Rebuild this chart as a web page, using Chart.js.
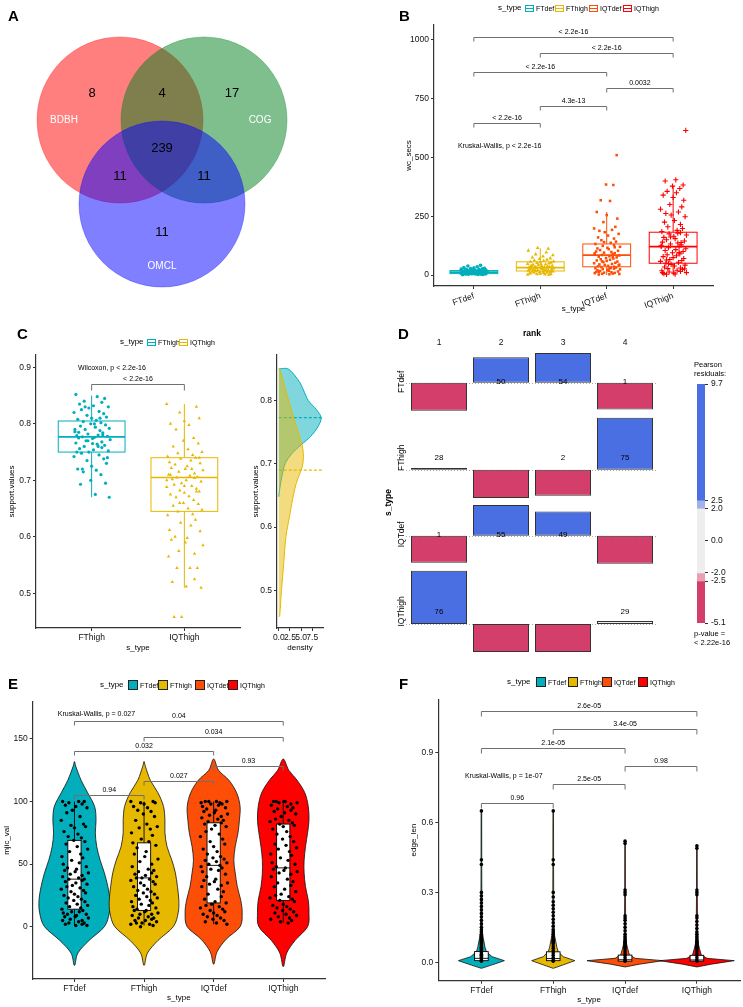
<!DOCTYPE html>
<html>
<head>
<meta charset="utf-8">
<title>Orthologous genes - method comparison</title>
<script src="https://cdn.jsdelivr.net/npm/chart.js@4.4.1/dist/chart.umd.min.js"></script>
<style>
  html, body { margin: 0; padding: 0; background: #fff; }
  body { position: relative; width: 743px; height: 1007px; overflow: hidden; font-family: 'Liberation Sans', Arial, Helvetica, sans-serif; }
  canvas { position: absolute; }
  .t { position: absolute; white-space: nowrap; line-height: 1; color: #000; }
  .sw { position: absolute; box-sizing: border-box; }
</style>
</head>
<body>
<script>
const FONT = "'Liberation Sans', Arial, Helvetica, sans-serif";
Chart.defaults.font.family = FONT;
Chart.defaults.font.size = 8.5;
Chart.defaults.color = '#111';
Chart.defaults.animation = false;
Chart.defaults.events = [];
Chart.defaults.plugins.legend.display = false;
Chart.defaults.plugins.tooltip.enabled = false;

// ---------- data ----------
const GROUPS = ['FTdef', 'FThigh', 'IQTdef', 'IQThigh'];
const PAIR = ['FThigh', 'IQThigh'];
const GROUP_COLORS = ['#00AFBB', '#E7B800', '#FC4E07', '#FF0000'];

// A: venn of the three ortholog methods
const SETS = ['BDBH', 'COG', 'OMCL'];
// BDBH only, BDBH&COG, COG only, all three, BDBH&OMCL, COG&OMCL, OMCL only
const REGION_COUNTS = [8, 4, 17, 239, 11, 11, 11];

// B: wc_secs
const WC_FTDEF = [1,2,2,3,3,4,4,5,5,5,6,6,6,7,7,7,8,8,8,9,9,9,10,10,10,11,11,11,12,12,12,13,13,13,14,14,15,15,16,16,17,17,18,18,19,20,20,21,22,23,24,25,26,27,28,30,32,35,38,41];
const WC_FTHIGH = [1,2,4,4,6,7,9,10,10,12,13,14,15,15,17,18,19,20,21,21,23,24,25,26,27,28,28,30,31,32,33,34,35,36,37,39,40,42,44,45,47,49,51,53,55,57,60,62,65,68,71,75,79,84,88,96,104,112,115,3,8,16,22,29,38,46,58];
const WC_IQTDEF = [2,3,4,5,6,8,9,10,12,13,15,17,18,20,22,24,25,27,29,30,32,34,35,37,39,41,43,45,47,50,52,55,57,60,62,65,67,70,72,75,78,80,83,85,88,90,93,95,98,100,103,106,110,113,116,120,124,128,132,137,142,148,155,160,168,175,182,188,192,198,205,225,240,255,268,315,318,383,385,510,14,28,44,58,76,92,118,140];
const WC_IQTHIGH = [3,4,6,8,10,13,15,18,20,24,27,30,34,38,42,45,50,54,58,62,66,70,74,78,82,86,90,95,100,104,108,112,116,120,124,128,132,136,140,145,150,155,160,165,170,175,180,185,190,198,205,215,225,232,248,255,262,268,280,290,300,318,330,340,350,356,368,378,383,400,405,615,48,96,122,138,162,178,10,26,64];
// lower whisker, q1, median, q3, upper whisker
const WC_BOX = [[0,6,12,19,38],[0,17,31,56,114],[0,35,85,132,268],[3,50,121,182,380]];
const WC_TESTS = [[1,4,'< 2.2e-16'],[2,4,'< 2.2e-16'],[1,3,'< 2.2e-16'],[3,4,'0.0032'],[2,3,'4.3e-13'],[1,2,'< 2.2e-16']];
const WC_GLOBAL = 'Kruskal-Wallis, p < 2.2e-16';

// C: support.values
const SUP_FTHIGH = [0.852,0.848,0.845,0.84,0.838,0.835,0.832,0.83,0.828,0.825,0.822,0.82,0.818,0.815,0.812,0.81,0.808,0.806,0.804,0.802,0.8,0.798,0.796,0.794,0.792,0.79,0.788,0.786,0.784,0.782,0.78,0.779,0.778,0.777,0.776,0.775,0.774,0.772,0.77,0.768,0.766,0.764,0.762,0.76,0.758,0.756,0.754,0.752,0.75,0.748,0.745,0.742,0.738,0.735,0.73,0.725,0.72,0.718,0.715,0.71,0.7,0.695,0.693,0.675,0.67,0.83,0.81,0.79,0.78,0.77,0.76,0.75,0.74,0.72,0.8,0.785,0.765];
const SUP_IQTHIGH = [0.835,0.83,0.82,0.81,0.805,0.8,0.798,0.79,0.775,0.77,0.765,0.76,0.755,0.75,0.748,0.745,0.742,0.74,0.738,0.735,0.732,0.73,0.728,0.725,0.722,0.72,0.718,0.715,0.712,0.71,0.708,0.706,0.705,0.704,0.702,0.7,0.698,0.695,0.692,0.69,0.688,0.685,0.682,0.68,0.678,0.675,0.672,0.67,0.665,0.66,0.658,0.655,0.65,0.648,0.645,0.64,0.638,0.63,0.625,0.62,0.612,0.61,0.6,0.598,0.595,0.59,0.585,0.575,0.57,0.565,0.545,0.545,0.545,0.525,0.52,0.512,0.51,0.458,0.458,0.72,0.7,0.68,0.66,0.74,0.69,0.71];
const SUP_BOX = [[0.67,0.75,0.777,0.805,0.85],[0.51,0.645,0.705,0.74,0.835]];
const SUP_TESTS = [[1,2,'< 2.2e-16']];
const SUP_GLOBAL = 'Wilcoxon, p < 2.2e-16';
// [support value, density]
const DENS_FTHIGH = [[0.648,0],[0.665,0.3],[0.68,0.7],[0.7,1.4],[0.716,2.9],[0.73,5.0],[0.743,7.1],[0.759,8.8],[0.773,9.5],[0.786,8.4],[0.8,6.6],[0.817,5.5],[0.83,4.6],[0.85,2.1],[0.85,0]];
const DENS_IQTHIGH = [[0.458,0],[0.46,0.2],[0.5,0.6],[0.543,1.1],[0.585,1.6],[0.617,2.4],[0.637,2.9],[0.669,3.9],[0.69,5.0],[0.7,5.4],[0.716,5.5],[0.73,5.2],[0.79,2.6],[0.85,0.2],[0.85,0]];
const SUP_MEAN = [0.773, 0.69];

// D: s_type x rank contingency table
const RANKS = ['1', '2', '3', '4'];
const COUNTS = [[0,50,54,1],[28,0,2,75],[1,55,49,0],[76,0,0,29]];
const D_PVALUE = '< 2.22e-16';

// E: mjic_val
const MJ_FTDEF = [100,100,100,99,98,97,96,95,93,91,88,85,82,81,80,79,76,74,72,71,69,68,66,64,62,60,58,56,55,53,51,50,48,47,46,45,44,43,42,41,40,39,38,38,37,36,35,34,33,32,31,30,29,28,27,26,25,24,23,22,21,20,19,18,17,16,15,14,13,12,12,11,10,10,9,8,8,7,6,5,5,4,3,3,2,2,1,1];
const MJ_FTHIGH = [100,100,99,99,98,96,95,93,92,90,88,85,82,80,79,78,75,73,70,68,67,65,63,60,58,56,54,52,50,48,46,45,44,43,42,41,40,39,39,38,37,36,35,34,33,32,30,29,28,27,26,25,24,23,22,21,20,19,18,17,16,15,14,13,13,12,11,10,10,9,8,7,7,6,5,5,4,3,3,2,2,1,0];
const MJ_IQTDEF = [100,100,100,100,99,99,98,98,97,96,95,94,93,92,91,90,89,88,87,86,85,84,83,82,81,80,78,76,74,72,70,68,66,64,62,60,58,56,55,54,53,52,51,50,49,48,47,46,45,44,42,40,38,37,36,35,34,33,32,30,28,26,24,22,20,19,18,17,16,15,14,13,12,11,10,9,8,7,6,5,4,3,2];
const MJ_IQTHIGH = [100,100,100,100,99,99,98,97,96,95,94,93,92,91,90,88,86,85,84,83,82,81,80,78,76,74,72,70,68,66,65,63,62,60,58,57,55,53,51,50,48,47,46,45,44,43,42,40,38,36,35,33,32,30,28,26,25,24,23,22,21,20,18,17,16,15,14,13,12,11,10,9,8,7,6,5,4,3];
const MJ_BOX = [[1,14,38,69,100],[1,13,39,67,100],[2,19,49,83,100],[3,21,47,82,100]];
// [value, violin half width]
const MJ_VIOLIN = [
  [[-31,0],[-21,0.05],[-11,0.21],[0,0.43],[11,0.5],[21,0.51],[32,0.48],[43,0.43],[53,0.37],[64,0.32],[75,0.3],[85,0.31],[96,0.29],[107,0.19],[117,0.096],[128,0.02],[132,0]],
  [[-31,0],[-21,0.05],[-11,0.2],[0,0.42],[11,0.49],[21,0.5],[32,0.48],[43,0.45],[53,0.4],[64,0.33],[75,0.3],[85,0.3],[96,0.28],[107,0.2],[117,0.09],[128,0.02],[132,0]],
  [[-30,0],[-20,0.05],[-10,0.18],[0,0.38],[11,0.41],[21,0.39],[32,0.34],[43,0.31],[53,0.29],[64,0.31],[75,0.35],[85,0.37],[96,0.38],[107,0.33],[117,0.22],[125,0.07],[134,0]],
  [[-32,0],[-21,0.05],[-11,0.17],[0,0.35],[11,0.37],[21,0.36],[32,0.32],[43,0.3],[53,0.3],[64,0.32],[75,0.35],[85,0.37],[96,0.36],[107,0.31],[117,0.2],[125,0.08],[134,0]]
];
const MJ_TESTS = [[1,2,'0.94'],[2,3,'0.027'],[3,4,'0.93'],[1,3,'0.032'],[2,4,'0.034'],[1,4,'0.04']];
const MJ_GLOBAL = 'Kruskal-Wallis, p = 0.027';

// F: edge_len
const EL_FTDEF = [0.65,0.44,0.42,0.3,0.285,0.27,0.255,0.24,0.225,0.21,0.195,0.18,0.165,0.15,0.14,0.13,0.12,0.115,0.11,0.105,0.1,0.095,0.09,0.085,0.08,0.075,0.07,0.065,0.06,0.055,0.05,0.045,0.04,0.035,0.03,0.025,0.02,0.015,0.01,0.005];
const EL_FTHIGH = [0.65,0.44,0.42,0.3,0.28,0.26,0.245,0.23,0.215,0.2,0.185,0.17,0.155,0.14,0.13,0.12,0.11,0.1,0.095,0.09,0.085,0.08,0.07,0.06,0.05,0.04,0.03,0.02,0.01,0.005];
const EL_IQTDEF = [0.52,0.51,0.31,0.3,0.29,0.2,0.19,0.18,0.165,0.15,0.135,0.12,0.11,0.1,0.09,0.085,0.08,0.075,0.07,0.065,0.06,0.05,0.04,0.03,0.02,0.01,0.005];
const EL_IQTHIGH = [0.5,0.49,0.31,0.3,0.29,0.2,0.19,0.175,0.16,0.145,0.13,0.12,0.11,0.1,0.09,0.085,0.08,0.075,0.07,0.065,0.06,0.05,0.04,0.03,0.02,0.01,0.005];
const EL_BOX = [[0,0.007,0.017,0.046,0.1],[0,0.007,0.016,0.045,0.1],[0,0.005,0.011,0.031,0.07],[0,0.005,0.01,0.03,0.07]];
const EL_VIOLIN = [
  [[-0.026,0],[-0.012,0.14],[0.007,0.32],[0.024,0.15],[0.045,0.07],[0.065,0.05],[0.09,0.035],[0.12,0.015],[0.2,0.007],[0.4,0.005],[0.65,0.004]],
  [[-0.026,0],[-0.012,0.13],[0.007,0.3],[0.024,0.14],[0.045,0.07],[0.065,0.05],[0.09,0.035],[0.12,0.015],[0.2,0.007],[0.4,0.005],[0.65,0.004]],
  [[-0.02,0],[-0.008,0.2],[0.007,0.53],[0.017,0.14],[0.032,0.06],[0.06,0.035],[0.08,0.02],[0.12,0.01],[0.3,0.005],[0.52,0.004]],
  [[-0.02,0],[-0.008,0.2],[0.007,0.52],[0.017,0.14],[0.032,0.06],[0.06,0.035],[0.08,0.02],[0.12,0.01],[0.3,0.005],[0.5,0.004]]
];
const EL_TESTS = [[1,2,'0.96'],[2,3,'2.5e-05'],[3,4,'0.98'],[1,3,'2.1e-05'],[2,4,'3.4e-05'],[1,4,'2.6e-05']];
const EL_GLOBAL = 'Kruskal-Wallis, p = 1e-07';

// ---------- helpers ----------
const JIT = [-0.17,0.06,0.14,-0.08,0.11,-0.13,0.02,0.18,-0.03,-0.11,0.08,-0.19,0.13,-0.05,0.16,0.0,-0.15,0.05,-0.09,0.1,-0.01,0.15,-0.12,0.04,0.19,-0.07,0.09,-0.18,0.12,-0.04,0.07,-0.16,0.17,-0.1,0.03,-0.14,0.01,0.2,-0.06,0.11];
const AXC = '#333';

function panel(box, area, cfg, o) {
  o = o || {};
  const W = o.W || 0, H = o.H || 0;
  const c = document.createElement('canvas');
  const w = box[2] - box[0], h = box[3] - box[1];
  c.width = w; c.height = h;
  c.style.left = box[0] + 'px'; c.style.top = box[1] + 'px';
  c.style.width = w + 'px'; c.style.height = h + 'px';
  document.body.appendChild(c);
  cfg.options.responsive = false;
  cfg.options.maintainAspectRatio = false;
  cfg.options.layout = { autoPadding: false, padding: {
    left: area[0] - box[0] - (o.yRight ? 0 : W),
    right: box[2] - area[2] - (o.yRight ? W : 0),
    top: area[1] - box[1] - (o.xTop ? H : 0),
    bottom: box[3] - area[3] - (o.xTop ? 0 : H)
  } };
  return new Chart(c, cfg);
}

function catAxis(names, max, H, title, rot) {
  return {
    type: 'linear', min: 0.4, max,
    afterBuildTicks: s => { s.ticks = names.map((n, i) => ({ value: i + 1 })); },
    afterFit: s => { s.height = H; },
    ticks: { callback: v => names[v - 1], color: '#111', font: { size: 8.5 }, padding: 2, autoSkip: false, minRotation: rot || 0, maxRotation: rot || 0 },
    grid: { display: true, drawOnChartArea: false, drawTicks: true, tickLength: 3, color: AXC },
    border: { display: true, color: AXC, width: 1.2 },
    title: { display: true, text: title, padding: 0, color: '#000', font: { size: 8 } }
  };
}

function valAxis(ticks, min, max, W, title, fmt) {
  return {
    type: 'linear', min, max,
    afterBuildTicks: s => { s.ticks = ticks.map(v => ({ value: v })); },
    afterFit: s => { s.width = W; },
    ticks: { callback: fmt, color: '#111', font: { size: 8.5 }, padding: 2, autoSkip: false, minRotation: 0, maxRotation: 0 },
    grid: { display: true, drawOnChartArea: false, drawTicks: true, tickLength: 3, color: AXC },
    border: { display: true, color: AXC, width: 1.2 },
    title: { display: true, text: title, padding: 0, color: '#000', font: { size: 8 } }
  };
}

function jitterSet(vals, g, width, style, radius, color) {
  return {
    data: vals.map((v, i) => ({ x: g + 1 + JIT[(i + g * 11) % JIT.length] * width / 0.2, y: v })),
    pointStyle: style, pointRadius: radius,
    backgroundColor: color, borderColor: color,
    borderWidth: style === 'cross' ? 1.1 : 0
  };
}

function annot(id, items) {
  return { id, afterDatasetsDraw(chart) {
    const { ctx, scales } = chart;
    items.forEach(t => {
      const px = t.px !== undefined ? t.px : scales.x.getPixelForValue(t.x);
      const py = t.py !== undefined ? t.py : scales.y.getPixelForValue(t.y);
      ctx.save();
      ctx.font = (t.bold ? 'bold ' : '') + (t.size || 7) + 'px ' + FONT;
      ctx.fillStyle = t.color || '#000';
      ctx.textAlign = t.align || 'center';
      ctx.textBaseline = 'middle';
      ctx.translate(px, py);
      if (t.rot) ctx.rotate(t.rot);
      ctx.fillText(t.text, 0, 0);
      ctx.restore();
    });
  } };
}

function brackets(id, tests, heights, tick) {
  return { id, afterDatasetsDraw(chart) {
    const { ctx, scales: { x, y } } = chart;
    ctx.save();
    ctx.strokeStyle = '#707070'; ctx.lineWidth = 1;
    ctx.fillStyle = '#000'; ctx.font = '7px ' + FONT;
    ctx.textAlign = 'center'; ctx.textBaseline = 'bottom';
    tests.forEach(([a, b, p], k) => {
      const x1 = x.getPixelForValue(a), x2 = x.getPixelForValue(b);
      const yy = Math.round(y.getPixelForValue(heights[k])) + 0.5;
      ctx.beginPath();
      ctx.moveTo(x1, yy + tick); ctx.lineTo(x1, yy); ctx.lineTo(x2, yy); ctx.lineTo(x2, yy + tick);
      ctx.stroke();
      ctx.fillText(p, (x1 + x2) / 2, yy - 1.5);
    });
    ctx.restore();
  } };
}

function boxes(id, stats, width, colors, white) {
  return { id, beforeDatasetsDraw(chart) {
    const { ctx, scales: { x, y } } = chart;
    stats.forEach(([lo, q1, med, q3, hi], g) => {
      const cx = x.getPixelForValue(g + 1);
      const hw = x.getPixelForValue(g + 1 + width / 2) - cx;
      const top = y.getPixelForValue(q3), bot = y.getPixelForValue(q1);
      ctx.save();
      ctx.strokeStyle = white ? '#000' : colors[g];
      ctx.lineWidth = white ? 0.9 : 1;
      ctx.beginPath();
      ctx.moveTo(cx, top); ctx.lineTo(cx, y.getPixelForValue(hi));
      ctx.moveTo(cx, bot); ctx.lineTo(cx, y.getPixelForValue(lo));
      ctx.stroke();
      if (white) { ctx.fillStyle = '#fff'; ctx.fillRect(cx - hw, top, 2 * hw, bot - top); }
      ctx.strokeRect(cx - hw, top, 2 * hw, bot - top);
      ctx.lineWidth = white ? 0.9 : 1.7;
      const m = y.getPixelForValue(med);
      ctx.beginPath(); ctx.moveTo(cx - hw, m); ctx.lineTo(cx + hw, m); ctx.stroke();
      ctx.restore();
    });
  } };
}

function violins(id, profiles, colors, smooth) {
  return { id, beforeDatasetsDraw(chart) {
    const { ctx, scales: { x, y } } = chart;
    profiles.forEach((prof, g) => {
      const c = g + 1;
      const left = prof.map(([v, w]) => [x.getPixelForValue(c - w), y.getPixelForValue(v)]);
      const right = prof.slice().reverse().map(([v, w]) => [x.getPixelForValue(c + w), y.getPixelForValue(v)]);
      const all = left.concat(right);
      const p = all.filter((q, i) => {
        const n = all[(i + 1) % all.length];
        return Math.abs(q[0] - n[0]) > 0.01 || Math.abs(q[1] - n[1]) > 0.01;
      });
      ctx.save();
      ctx.beginPath();
      ctx.moveTo(p[0][0], p[0][1]);
      const n = p.length;
      for (let i = 0; i < n; i++) {
        const p0 = p[(i - 1 + n) % n], p1 = p[i], p2 = p[(i + 1) % n], p3 = p[(i + 2) % n];
        if (smooth) {
          ctx.bezierCurveTo(p1[0] + (p2[0] - p0[0]) / 6, p1[1] + (p2[1] - p0[1]) / 6,
                            p2[0] - (p3[0] - p1[0]) / 6, p2[1] - (p3[1] - p1[1]) / 6, p2[0], p2[1]);
        } else {
          ctx.lineTo(p2[0], p2[1]);
        }
      }
      ctx.closePath();
      ctx.fillStyle = colors[g]; ctx.fill();
      ctx.strokeStyle = '#111'; ctx.lineWidth = 0.8; ctx.stroke();
      ctx.restore();
    });
  } };
}

function txt(x, y, s, size, opt) {
  opt = opt || {};
  const d = document.createElement('div');
  d.className = 't';
  d.textContent = s;
  d.style.left = x + 'px'; d.style.top = y + 'px';
  d.style.fontSize = size + 'px';
  if (opt.bold) d.style.fontWeight = 'bold';
  d.style.transform = opt.center ? 'translate(-50%,-50%)' : 'translateY(-50%)';
  document.body.appendChild(d);
}
function sw(x, y, w, h, css) {
  const d = document.createElement('div');
  d.className = 'sw';
  d.style.cssText = 'left:' + x + 'px;top:' + (y - h / 2) + 'px;width:' + w + 'px;height:' + h + 'px;' + css;
  document.body.appendChild(d);
}
function letter(x, y, s) {
  const d = document.createElement('div');
  d.className = 't';
  d.textContent = s;
  d.style.left = x + 'px'; d.style.top = y + 'px';
  d.style.fontSize = '15px'; d.style.fontWeight = 'bold';
  document.body.appendChild(d);
}

// ---------- A: venn ----------
const VENN_FILL = ['rgba(255,0,0,0.5)', 'rgba(0,128,30,0.5)', 'rgba(0,0,255,0.5)'];
const VENN_CENTRE = [[-0.5, 0.5], [0.5, 0.5], [0, -0.5]];
const REGION_AT = [[-0.833, 0.821], [0, 0.821], [0.833, 0.821], [0, 0.167], [-0.5, -0.167], [0.5, -0.167], [0, -0.833]];
const SET_LABEL_AT = [[-1.167, 0.5], [1.167, 0.5], [0, -1.238]];

panel([0, 0, 370, 305], [0, 0, 370, 305], {
  type: 'scatter',
  data: { datasets: SETS.map((s, i) => ({
    label: s,
    data: [{ x: VENN_CENTRE[i][0], y: VENN_CENTRE[i][1] }],
    pointRadius: 83, backgroundColor: VENN_FILL[i],
    borderColor: VENN_FILL[i], borderWidth: 0.6, order: SETS.length - i, clip: false
  })) },
  options: {
    scales: {
      x: { type: 'linear', display: false, min: -162 / 84, max: 208 / 84 },
      y: { type: 'linear', display: false, min: -143 / 84, max: 162 / 84 }
    }
  },
  plugins: [annot('vennText',
    REGION_COUNTS.map((n, i) => ({ x: REGION_AT[i][0], y: REGION_AT[i][1], text: String(n), size: 13 }))
      .concat(SETS.map((s, i) => ({ x: SET_LABEL_AT[i][0], y: SET_LABEL_AT[i][1], text: s, size: 10, color: '#fff' }))))]
});

// ---------- B ----------
const WC_SETS = [WC_FTDEF, WC_FTHIGH, WC_IQTDEF, WC_IQTHIGH];
const WC_SHAPES = [['circle', 1.8], ['triangle', 2.2], ['rect', 1.8], ['cross', 2.6]];
panel([372, 16, 743, 318], [434, 25, 713, 286], {
  type: 'scatter',
  data: { datasets: WC_SETS.map((v, g) => jitterSet(v, g, 0.2, WC_SHAPES[g][0], WC_SHAPES[g][1], GROUP_COLORS[g])) },
  options: { scales: {
    x: catAxis(GROUPS, 4.6, 27.5, 's_type', 20),
    y: valAxis([0, 250, 500, 750, 1000], -46.8, 1063.8, 30.5, 'wc_secs', v => String(v))
  } },
  plugins: [
    boxes('wcBox', WC_BOX, 0.72, GROUP_COLORS, false),
    brackets('wcBr', WC_TESTS, [1014, 943, 865, 794, 719, 645], 4),
    annot('wcKw', [{ x: 0.76, y: 548, text: WC_GLOBAL, align: 'left' }])
  ]
}, { W: 30.5, H: 27.5 });

// ---------- C ----------
const SUP_SETS = [SUP_FTHIGH, SUP_IQTHIGH];
const PAIR_COLORS = [GROUP_COLORS[0], GROUP_COLORS[1]];
panel([0, 330, 255, 660], [36, 355, 240, 628], {
  type: 'scatter',
  data: { datasets: SUP_SETS.map((v, g) => jitterSet(v, g, 0.2, g ? 'triangle' : 'circle', g ? 2 : 1.6, PAIR_COLORS[g])) },
  options: { scales: {
    x: catAxis(PAIR, 2.6, 24.5, 's_type'),
    y: valAxis([0.5, 0.6, 0.7, 0.8, 0.9], 0.4386, 0.9218, 28.8, 'support.values', v => v.toFixed(1))
  } },
  plugins: [
    boxes('supBox', SUP_BOX, 0.72, PAIR_COLORS, false),
    brackets('supBr', SUP_TESTS, [0.87], 6),
    annot('supW', [{ x: 0.853, y: 0.898, text: SUP_GLOBAL, align: 'left' }])
  ]
}, { W: 28.8, H: 24.5 });

const DENS = [DENS_IQTHIGH, DENS_FTHIGH];
const DENS_COL = [PAIR_COLORS[1], PAIR_COLORS[0]];
const DENS_FILL = ['rgba(231,184,0,0.5)', 'rgba(0,175,187,0.5)'];
panel([240, 330, 335, 660], [277, 355, 323, 628], {
  type: 'line',
  data: { datasets: DENS.map((d, k) => ({
    data: d.map(([v, den]) => ({ x: den, y: v })),
    borderColor: DENS_COL[k], backgroundColor: DENS_FILL[k], borderWidth: 1,
    fill: 'origin', tension: 0.3, pointRadius: 0
  })).concat(SUP_MEAN.map((m, k) => ({
    data: [{ x: 0, y: m }, { x: 9.9, y: m }],
    borderColor: PAIR_COLORS[k], borderWidth: 1.2, borderDash: [3, 2], fill: false, pointRadius: 0
  }))) },
  options: {
    indexAxis: 'y',
    scales: {
      x: Object.assign(valAxis([0, 2.5, 5, 7.5], -0.4, 9.9, 0, 'density', v => v.toFixed(1)),
        { afterFit: s => { s.height = 24.5; } }),
      y: valAxis([0.5, 0.6, 0.7, 0.8], 0.4406, 0.872, 26.5, 'support.values', v => v.toFixed(1))
    }
  }
}, { W: 26.5, H: 24.5 });

// ---------- D ----------
const rowSum = COUNTS.map(r => r.reduce((a, b) => a + b, 0));
const colSum = RANKS.map((_, j) => COUNTS.reduce((a, r) => a + r[j], 0));
const NTOT = rowSum.reduce((a, b) => a + b, 0);
const RES = COUNTS.map((r, i) => r.map((o, j) => { const e = rowSum[i] * colSum[j] / NTOT; return (o - e) / Math.sqrt(e); }));
const GAP = 1.3;
const base = [], rowLo = [], rowHi = [];
let cur = 0;
for (let i = GROUPS.length - 1; i >= 0; i--) {
  const neg = Math.max(0, -Math.min(...RES[i])), pos = Math.max(0, Math.max(...RES[i]));
  rowLo[i] = cur; base[i] = cur + neg; rowHi[i] = base[i] + pos; cur = rowHi[i] + GAP;
}
const D_TOP = cur - GAP;
function shade(r) {
  if (r > 2.5) return '#4A6FE3';
  if (r > 2) return '#A3B1EA';
  if (r < -2.5) return '#D33F6A';
  if (r < -2) return '#E8A1B3';
  return '#EEEEEE';
}
panel([370, 320, 670, 660], [408, 353, 656, 652], {
  type: 'bar',
  data: { labels: RANKS, datasets: GROUPS.map((g, i) => ({
    label: g,
    data: RES[i].map(r => [base[i], base[i] + r]),
    backgroundColor: RES[i].map(shade),
    borderColor: '#333', borderWidth: 1, borderSkipped: false,
    grouped: false, barPercentage: 1, categoryPercentage: 56 / 62
  })) },
  options: { scales: {
    x: { position: 'top', afterFit: s => { s.height = 24.8; },
      grid: { display: false, drawTicks: false }, border: { display: false },
      ticks: { color: '#111', font: { size: 8.5 }, padding: 5.5 },
      title: { display: true, text: 'rank', padding: 0, color: '#000', font: { size: 8.5, weight: 'bold' } } },
    y: { type: 'linear', min: 0, max: D_TOP, afterFit: s => { s.width = 24.8; },
      grid: { display: false, drawTicks: false }, border: { display: false }, ticks: { display: false },
      title: { display: true, text: 's_type', padding: 0, color: '#000', font: { size: 8.5, weight: 'bold' } } }
  } },
  plugins: [
    { id: 'baselines', beforeDatasetsDraw(chart) {
      const { ctx, chartArea: a, scales: { y } } = chart;
      ctx.save(); ctx.strokeStyle = '#aaa'; ctx.lineWidth = 1; ctx.setLineDash([1, 2]);
      base.forEach(b => { const yy = Math.round(y.getPixelForValue(b)) + 0.5; ctx.beginPath(); ctx.moveTo(a.left - 2, yy); ctx.lineTo(a.right, yy); ctx.stroke(); });
      ctx.restore();
    } },
    annot('dCounts', COUNTS.flatMap((r, i) => r.map((o, j) => o > 0 ? { x: j, y: (rowLo[i] + rowHi[i]) / 2, text: String(o), size: 8 } : null)).filter(Boolean)
      .concat(GROUPS.map((g, i) => ({ px: 32, y: (rowLo[i] + rowHi[i]) / 2, text: g, size: 8.5, rot: -Math.PI / 2 }))))
  ]
}, { W: 24.8, H: 24.8, xTop: true });

const RMAX = Math.round(Math.max(...RES.flat()) * 10) / 10;
const RMIN = Math.round(Math.min(...RES.flat()) * 10) / 10;
const SHADE_BANDS = [[2.5, RMAX], [2, 2.5], [-2, 2], [-2.5, -2], [RMIN, -2.5]];
panel([688, 368, 743, 636], [697, 384, 705, 623], {
  type: 'bar',
  data: { labels: [''], datasets: SHADE_BANDS.map(b => ({
    data: [b], backgroundColor: shade((b[0] + b[1]) / 2), borderWidth: 0,
    grouped: false, barPercentage: 1, categoryPercentage: 1
  })) },
  options: { scales: {
    x: { display: false },
    y: { type: 'linear', position: 'right', min: RMIN, max: RMAX,
      afterBuildTicks: s => { s.ticks = [RMAX, 2.5, 2, 0, -2, -2.5, RMIN].map(v => ({ value: v })); },
      afterFit: s => { s.width = 30; },
      ticks: { callback: v => v.toFixed(1), color: '#111', font: { size: 8.5 }, padding: 3, autoSkip: false },
      grid: { display: true, drawOnChartArea: false, drawTicks: true, tickLength: 3, color: AXC },
      border: { display: false } }
  } }
}, { W: 30, yRight: true });

// ---------- E ----------
const MJ_SETS = [MJ_FTDEF, MJ_FTHIGH, MJ_IQTDEF, MJ_IQTHIGH];
panel([0, 690, 335, 1007], [32.7, 701.7, 325, 979], {
  type: 'scatter',
  data: { datasets: MJ_SETS.map((v, g) => jitterSet(v, g, 0.2, 'circle', 1.7, '#000')) },
  options: { scales: {
    x: catAxis(GROUPS, 4.6, 23.2, 's_type'),
    y: valAxis([0, 50, 100, 150], -41.8, 179.8, 31.2, 'mjic_val', v => String(v))
  } },
  plugins: [
    violins('mjV', MJ_VIOLIN, GROUP_COLORS, true),
    boxes('mjBox', MJ_BOX, 0.19, GROUP_COLORS, true),
    brackets('mjBr', MJ_TESTS, [105, 116.7, 128.5, 140.4, 151.9, 164.4], 4),
    annot('mjKw', [{ x: 0.76, y: 170, text: MJ_GLOBAL, align: 'left' }])
  ]
}, { W: 31.2, H: 23.2 });

// ---------- F ----------
const EL_SETS = [EL_FTDEF, EL_FTHIGH, EL_IQTDEF, EL_IQTHIGH];
panel([395, 690, 743, 1007], [438.3, 699.3, 740, 980.7], {
  type: 'scatter',
  data: { datasets: EL_SETS.map((v, g) => jitterSet(v, g, 0, 'circle', 1.8, '#000')) },
  options: { scales: {
    x: catAxis(GROUPS, 4.6, 23.8, 's_type'),
    y: valAxis([0, 0.3, 0.6, 0.9], -0.079, 1.129, 29.5, 'edge_len', v => v.toFixed(1))
  } },
  plugins: [
    violins('elV', EL_VIOLIN, GROUP_COLORS, false),
    boxes('elBox', EL_BOX, 0.19, GROUP_COLORS, true),
    brackets('elBr', EL_TESTS, [0.685, 0.764, 0.842, 0.921, 1.0, 1.079], 5),
    annot('elKw', [{ x: 0.77, y: 0.8, text: EL_GLOBAL, align: 'left' }])
  ]
}, { W: 29.5, H: 23.8 });

// ---------- letters, legends, extra text ----------
letter(8, 8, 'A'); letter(399, 8, 'B'); letter(17, 326, 'C');
letter(398, 326, 'D'); letter(8, 676, 'E'); letter(399, 676, 'F');

function boxKey(x, y, c) {
  sw(x, y, 9, 7, 'border:1px solid ' + c + ';background:linear-gradient(' + c + ',' + c + ') no-repeat center/100% 1px;');
}
function fillKey(x, y, c) {
  sw(x, y, 10, 10, 'border:1px solid #222;background:' + c + ';');
}
// B legend
txt(498, 8, 's_type', 8);
[525, 555, 589, 623].forEach((x, g) => { boxKey(x, 8, GROUP_COLORS[g]); txt(x + 11, 8, GROUPS[g], 7); });
// C legend
txt(120, 342, 's_type', 8);
[147, 179].forEach((x, g) => { boxKey(x, 342, PAIR_COLORS[g]); txt(x + 11, 342, PAIR[g], 7); });
// E legend
txt(100, 685, 's_type', 8);
[128, 158, 195, 228].forEach((x, g) => { fillKey(x, 685, GROUP_COLORS[g]); txt(x + 12, 685, GROUPS[g], 7); });
// F legend
txt(507, 682, 's_type', 8);
[536, 568, 602, 638].forEach((x, g) => { fillKey(x, 682, GROUP_COLORS[g]); txt(x + 12, 682, GROUPS[g], 7); });
// D shading legend
txt(694, 365, 'Pearson', 7.5);
txt(694, 373.5, 'residuals:', 7.5);
txt(694, 634, 'p-value =', 7.5);
txt(694, 642.5, D_PVALUE, 7.5);
</script>
</body>
</html>
